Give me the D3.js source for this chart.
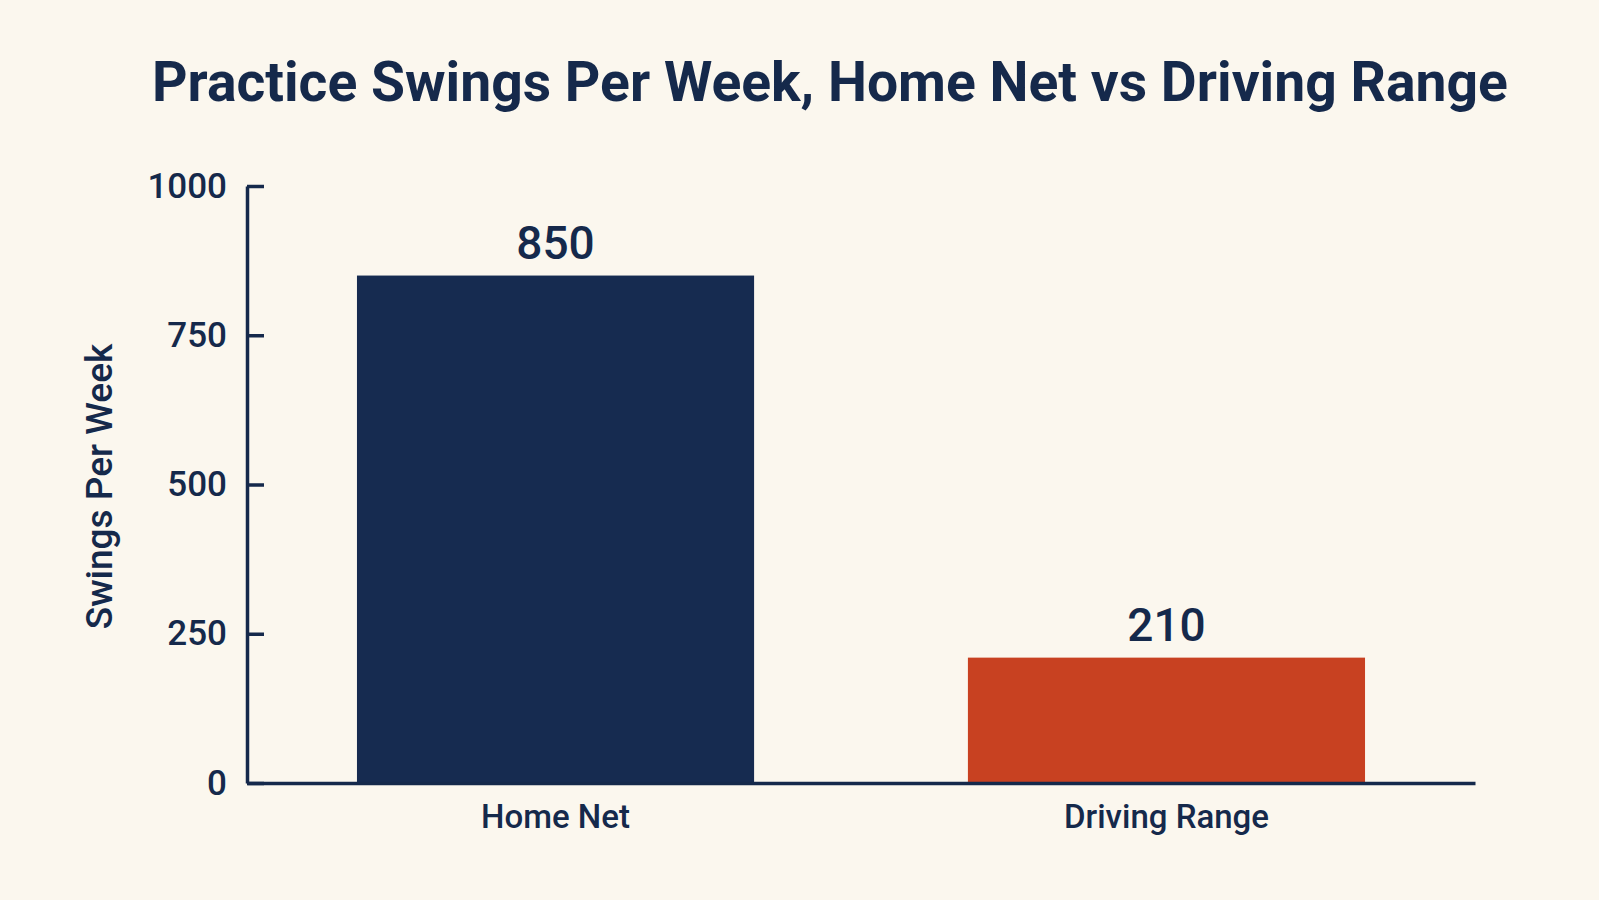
<!DOCTYPE html>
<html>
<head>
<meta charset="utf-8">
<script src="https://cdn.jsdelivr.net/npm/d3@7"></script>
<style>
    html, body { margin: 0; padding: 0; background: #fbf7ee; }
    svg { display: block; font-family: Roboto, "Noto Sans", sans-serif; }
</style>
</head>
<body>
<div id="chart"></div>
<script>
// Chart data
const categories = ["Home Net", "Driving Range"];
const swings = [850, 210];
const barColors = ["#162b50", "#c84121"];
const yTicks = [0, 250, 500, 750, 1000];

const titleText = "Practice Swings Per Week, Home Net vs Driving Range";
const yLabel = "Swings Per Week";

const ink = "#15294b";
const width = 1599, height = 900;
const margin = {top: 186, right: 124, bottom: 117, left: 247};

const svg = d3.select("#chart")
    .append("svg")
    .attr("width", width)
    .attr("height", height);

svg.append("rect")
    .attr("width", width)
    .attr("height", height)
    .attr("fill", "#fbf7ee");

// Scales
const x = d3.scaleBand()
    .domain(categories)
    .range([margin.left, width - margin.right])
    .paddingInner(0.35)
    .paddingOuter(0.18);

const y = d3.scaleLinear()
    .domain([0, 1000])
    .range([height - margin.bottom, margin.top]);

// Title, squeezed to the width it has in the picture
const title = svg.append("text")
    .attr("x", 152)
    .attr("y", 101)
    .attr("fill", ink)
    .attr("font-weight", 700)
    .attr("font-size", 60)
    .text(titleText);
const tw = title.node().getComputedTextLength();
title.attr("font-size", 60 * 1356 / tw);

// Bars
svg.selectAll("rect.bar")
    .data(categories)
    .enter()
    .append("rect")
    .attr("class", "bar")
    .attr("x", d => x(d))
    .attr("width", x.bandwidth())
    .attr("y", (d, i) => y(swings[i]))
    .attr("height", (d, i) => y(0) - y(swings[i]))
    .attr("fill", (d, i) => barColors[i]);

// Value labels
svg.selectAll("text.value")
    .data(categories)
    .enter()
    .append("text")
    .attr("class", "value")
    .attr("x", d => x(d) + x.bandwidth() / 2)
    .attr("y", (d, i) => y(swings[i]) - 17)
    .attr("text-anchor", "middle")
    .attr("fill", ink)
    .attr("font-size", 46)
    .attr("font-weight", 500)
    .text((d, i) => swings[i]);

// Y axis: ticks point into the plot
const yAxis = svg.append("g")
    .attr("transform", "translate(" + margin.left + ",0)")
    .call(d3.axisLeft(y)
        .tickValues(yTicks)
        .tickFormat(d3.format("d"))
        .tickSizeInner(-17)
        .tickSizeOuter(0)
        .tickPadding(20));

yAxis.select(".domain").attr("stroke", ink).attr("stroke-width", 3.5);
yAxis.selectAll(".tick line").attr("stroke", ink).attr("stroke-width", 3.5);
yAxis.selectAll(".tick text")
    .attr("fill", ink)
    .attr("font-size", 35)
    .attr("font-weight", 500)
    .attr("font-family", "Roboto, sans-serif");

// X axis
const xAxis = svg.append("g")
    .attr("transform", "translate(0," + y(0) + ")")
    .call(d3.axisBottom(x).tickSize(0).tickPadding(22));

xAxis.select(".domain").attr("stroke", ink).attr("stroke-width", 3.5);
xAxis.selectAll(".tick text")
    .attr("fill", ink)
    .attr("font-size", 33)
    .attr("font-weight", 500)
    .attr("font-family", "Roboto, sans-serif");

// Y axis label
svg.append("text")
    .attr("transform", "translate(112," + ((y(0) + y(1000)) / 2 + 2) + ") rotate(-90)")
    .attr("text-anchor", "middle")
    .attr("fill", ink)
    .attr("font-size", 37)
    .attr("font-weight", 500)
    .text(yLabel);
</script>
</body>
</html>
